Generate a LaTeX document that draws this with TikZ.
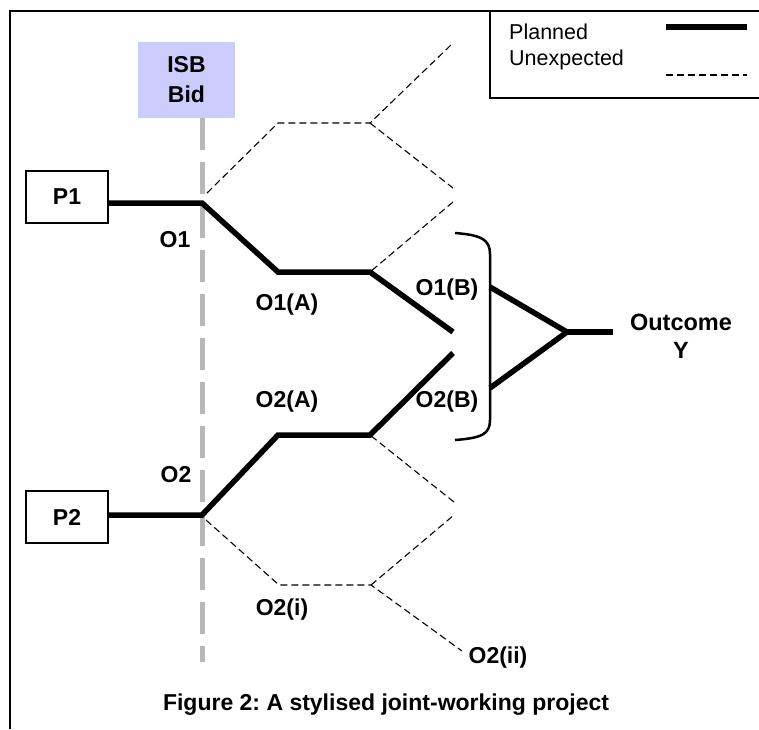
\documentclass[tikz,border=0pt]{standalone}
\usepackage{fontspec}
\setmainfont{Liberation Sans}
\usetikzlibrary{calc,positioning}
\definecolor{bidblue}{RGB}{204,204,255}
\definecolor{bidgray}{gray}{0.72}
\frenchspacing

\begin{document}
\begin{tikzpicture}[x=1pt,y=-1pt]
    \tikzstyle{every node}=[font=\fontsize{23}{28}\selectfont\bfseries,inner sep=0pt]
    \tikzstyle{planned}=[line width=5.5pt]
    \tikzstyle{unexpected}=[line width=1.1pt,dash pattern=on 7pt off 4pt]
    \tikzstyle{pbox}=[draw,line width=1.2pt,minimum width=82pt,minimum height=52pt]
    \tikzstyle{keytext}=[font=\fontsize{21.5}{26}\selectfont,anchor=west]

    \useasboundingbox (0,0) rectangle (759,729);

    % frame and key box
    \draw[line width=1.5pt] (10,729) -- (10,11) -- (759,11);
    \draw[line width=1.5pt] (490,11) -- (490,98) -- (759,98);
    \node (keyp) [keytext] at (509,32) {Planned};
    \node (keyu) [keytext] at (509,60) {Unexpected};
    \coordinate (kp1) at (666,27);
    \coordinate (kp2) at (747,27);
    \coordinate (ku1) at (666,75);
    \coordinate (ku2) at (747,75);
    \draw[planned] (kp1) -- (kp2);
    \draw[unexpected] (ku1) -- (ku2);

    % the bid, with its grey line down the page
    \node (isb) [fill=bidblue,minimum width=97pt,minimum height=76pt,align=center,
                 font=\fontsize{23}{30}\selectfont\bfseries] at (186.5,80) {ISB\\Bid};
    \coordinate (bidend) at (202,662);
    \draw[bidgray,line width=5pt,dash pattern=on 32pt off 12pt] (isb.south -| bidend) -- (bidend);

    % the two partners
    \node (p1) [pbox] at (67,197) {P1};
    \node (p2) [pbox] at (67,517) {P2};

    % planned route of P1
    \coordinate (b1) at (202,203);
    \coordinate (a1) at (278,272);
    \coordinate (c1) at (370,272);
    \coordinate (e1) at (453,332);
    \draw[planned] ($(p1.east)+(0,6)$) -- (b1) -- (a1) -- (c1) -- (e1);

    % planned route of P2
    \coordinate (b2) at (202,515);
    \coordinate (a2) at (278,435);
    \coordinate (c2) at (370,435);
    \coordinate (e2) at (453,353);
    \draw[planned] (p2.east |- b2) -- (b2) -- (a2) -- (c2) -- (e2);

    % unexpected routes, top
    \draw[unexpected] (207,193) -- (278,123) coordinate (u1) -- (370,123) coordinate (v1) -- (453,43);
    \draw[unexpected] (v1) -- (453,188);
    \draw[unexpected] (453,202) -- (c1);

    % unexpected routes, bottom
    \draw[unexpected] (206,520) -- (279,585) coordinate (u2) -- (371,585) coordinate (v2) -- (462,651);
    \draw[unexpected] (v2) -- (454,515);
    \draw[unexpected] (454,502) -- (c2);

    % bracket round O1(B), O2(B) and the joint outcome
    \draw[line width=2.5pt] (455,233) .. controls (482,235) and (490,240) .. (490,254)
        -- (490,420) .. controls (490,434) and (482,438) .. (455,440);
    \coordinate (t1) at (490,287);
    \coordinate (t2) at (490,388);
    \coordinate (apex) at (567,332);
    \coordinate (out) at (613,332);
    \draw[planned] (t1) -- (apex) -- (t2);
    \draw[planned] (apex) -- (out);

    % labels
    \node (o1) at (175,240) {O1};
    \node (o1a) at (287,305) {O1(A)};
    \node (o1b) at (447,290) {O1(B)};
    \node (o2) at (176,475) {O2};
    \node (o2a) at (287,402) {O2(A)};
    \node (o2b) at (447,402) {O2(B)};
    \node (o2i) at (282,610) {O2(i)};
    \node (o2ii) at (498,658) {O2(ii)};
    \node (outcome) [align=center,font=\fontsize{23.5}{28}\selectfont\bfseries] at (681,336) {Outcome\\Y};

    \node (caption) at (386,705) {Figure 2: A stylised joint-working project};
\end{tikzpicture}
\end{document}
